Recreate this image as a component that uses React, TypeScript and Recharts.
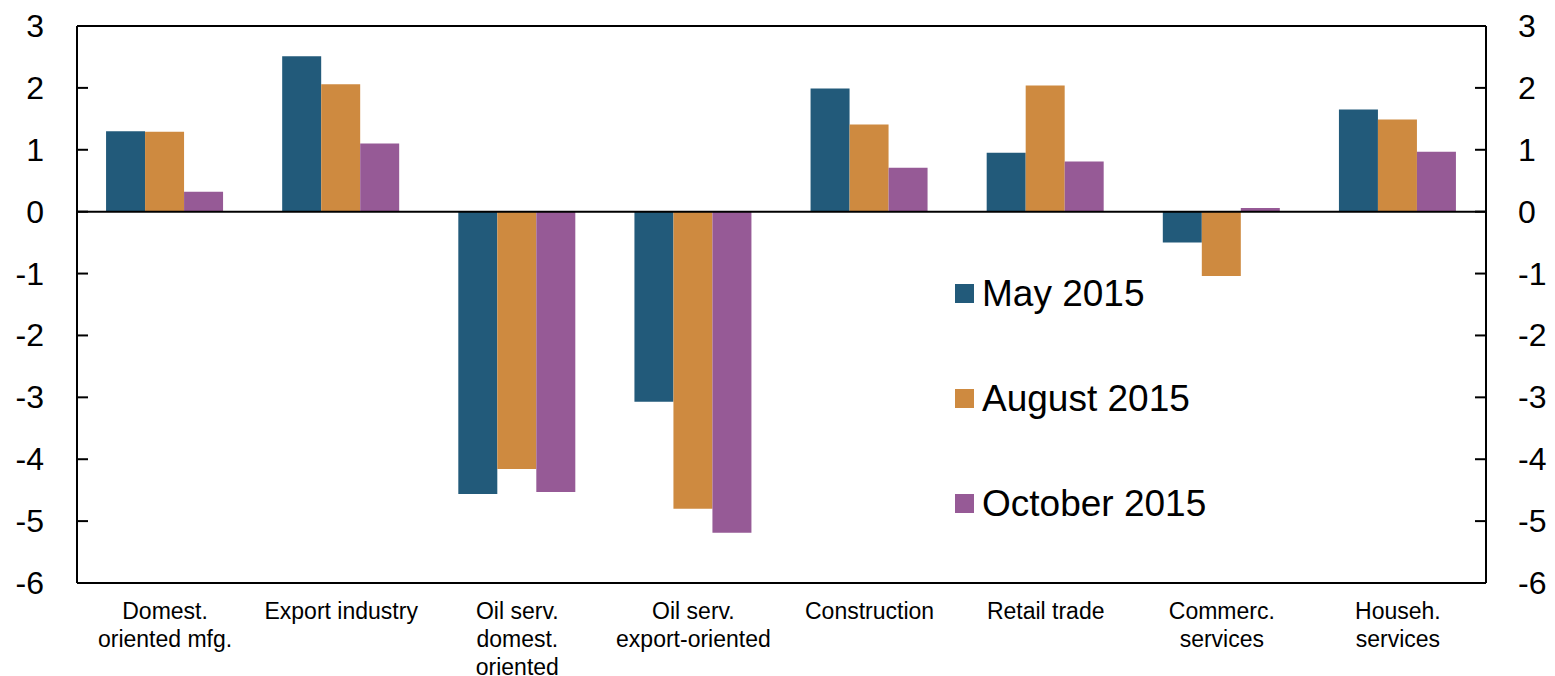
import React from "react";
import {
  BarChart,
  Bar,
  XAxis,
  YAxis,
  ReferenceLine,
  Legend,
} from "recharts";

const categories = [
  "Domest.\noriented mfg.",
  "Export industry",
  "Oil serv.\ndomest.\noriented",
  "Oil serv.\nexport-oriented",
  "Construction",
  "Retail trade",
  "Commerc.\nservices",
  "Househ.\nservices",
];

const may2015 = [1.3, 2.51, -4.56, -3.07, 1.99, 0.95, -0.5, 1.65];
const aug2015 = [1.29, 2.06, -4.16, -4.8, 1.41, 2.04, -1.04, 1.49];
const oct2015 = [0.32, 1.1, -4.53, -5.19, 0.71, 0.81, 0.06, 0.97];

const yTicks = [3, 2, 1, 0, -1, -2, -3, -4, -5, -6];

const seriesList = [
  { key: "may", name: "May 2015", color: "#225a7a", values: may2015 },
  { key: "aug", name: "August 2015", color: "#ce8a40", values: aug2015 },
  { key: "oct", name: "October 2015", color: "#965a96", values: oct2015 },
];

const data = categories.map((cat, i) => {
  const row: Record<string, string | number> = { cat };
  seriesList.forEach((s) => {
    row[s.key] = s.values[i];
  });
  return row;
});

const FONT = "'Liberation Sans', Arial, Helvetica, sans-serif";
const LEFT_MARGIN = 33;
const RIGHT_MARGIN = 32;
const TICK_LEN = 11;

function LeftTick(props: any) {
  const { x, y, payload } = props;
  const axisX = x + LEFT_MARGIN;
  return (
    <g>
      <line x1={axisX} x2={axisX + TICK_LEN} y1={y} y2={y} stroke="#000" strokeWidth={2} />
      <text
        x={x}
        y={y}
        textAnchor="end"
        dominantBaseline="central"
        fontSize={32}
        fontFamily={FONT}
        fill="#000"
      >
        {payload.value}
      </text>
    </g>
  );
}

function RightTick(props: any) {
  const { x, y, payload } = props;
  const axisX = x - RIGHT_MARGIN;
  return (
    <g>
      <line x1={axisX - TICK_LEN} x2={axisX} y1={y} y2={y} stroke="#000" strokeWidth={2} />
      <text
        x={x}
        y={y}
        textAnchor="start"
        dominantBaseline="central"
        fontSize={32}
        fontFamily={FONT}
        fill="#000"
      >
        {payload.value}
      </text>
    </g>
  );
}

function CategoryTick(props: any) {
  const { x, y, payload } = props;
  const lines = String(payload.value).split("\n");
  return (
    <text x={x} y={y + 28} textAnchor="middle" fontSize={23} fontFamily={FONT} fill="#000">
      {lines.map((line, i) => (
        <tspan key={i} x={x} dy={i === 0 ? 0 : 28}>
          {line}
        </tspan>
      ))}
    </text>
  );
}

function LegendBox() {
  return (
    <div style={{ fontFamily: FONT }}>
      {seriesList.map((s) => (
        <div
          key={s.key}
          style={{ height: 105, display: "flex", alignItems: "center" }}
        >
          <span
            style={{
              display: "inline-block",
              width: 19,
              height: 19,
              background: s.color,
              marginRight: 8,
            }}
          />
          <span style={{ fontSize: 37, color: "#000", whiteSpace: "nowrap" }}>{s.name}</span>
        </div>
      ))}
    </div>
  );
}

export default function App() {
  return (
    <div style={{ width: 1547, height: 668, position: "relative" }}>
      <BarChart
        width={1547}
        height={668}
        data={data}
        margin={{ top: 18, right: 0, bottom: 0, left: 0 }}
        barCategoryGap="16.5%"
        barGap={0}
      >
        <XAxis
          dataKey="cat"
          height={93}
          interval={0}
          tickLine={false}
          axisLine={{ stroke: "#000", strokeWidth: 2 }}
          tick={<CategoryTick />}
        />
        <YAxis
          yAxisId="left"
          width={69}
          domain={[-6, 3]}
          ticks={yTicks}
          interval={0}
          allowDataOverflow
          tickSize={0}
          tickMargin={LEFT_MARGIN}
          tickLine={false}
          axisLine={{ stroke: "#000", strokeWidth: 2 }}
          tick={<LeftTick />}
        />
        <YAxis
          yAxisId="right"
          orientation="right"
          width={69}
          domain={[-6, 3]}
          ticks={yTicks}
          interval={0}
          allowDataOverflow
          tickSize={0}
          tickMargin={RIGHT_MARGIN}
          tickLine={false}
          axisLine={{ stroke: "#000", strokeWidth: 2 }}
          tick={<RightTick />}
        />
        {seriesList.map((s) => (
          <Bar
            key={s.key}
            yAxisId="left"
            dataKey={s.key}
            name={s.name}
            fill={s.color}
            isAnimationActive={false}
          />
        ))}
        <ReferenceLine yAxisId="left" y={0} stroke="#000" strokeWidth={2} />
        <ReferenceLine yAxisId="left" y={3} stroke="#000" strokeWidth={2} />
        <Legend
          layout="vertical"
          align="center"
          verticalAlign="middle"
          content={() => <LegendBox />}
          wrapperStyle={{ left: 947, top: 233, width: "auto", height: "auto" }}
        />
      </BarChart>
    </div>
  );
}
